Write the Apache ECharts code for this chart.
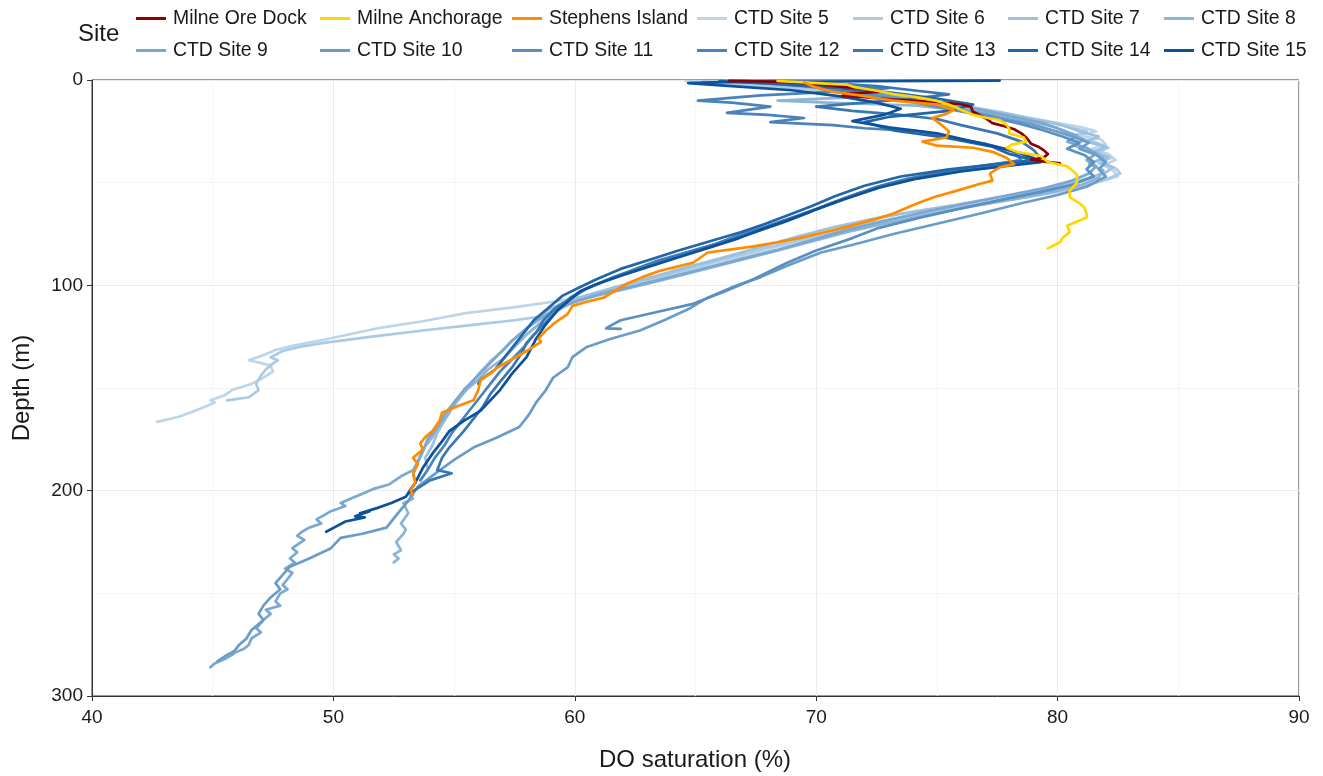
<!DOCTYPE html>
<html>
<head>
<meta charset="utf-8">
<script src="https://cdn.jsdelivr.net/npm/echarts@6/dist/echarts.min.js"></script>
<style>
  html, body { margin: 0; padding: 0; background: #ffffff; }
  #chart { width: 1323px; height: 776px; }
</style>
</head>
<body>
<div id="chart"></div>
<script>
// Dissolved-oxygen saturation profiles: each site is a list of [DO saturation %, depth m]
const siteNames = [
  'Milne Ore Dock', 'Milne Anchorage', 'Stephens Island',
  'CTD Site 5', 'CTD Site 6', 'CTD Site 7', 'CTD Site 8',
  'CTD Site 9', 'CTD Site 10', 'CTD Site 11', 'CTD Site 12',
  'CTD Site 13', 'CTD Site 14', 'CTD Site 15'
];

const siteColors = [
  '#8b0000', '#ffd700', '#ff8c00',
  '#bcd5ea', '#abcae4', '#9cc0de', '#8bb4d7',
  '#7aa8d0', '#6a9cc9', '#5a8fc2', '#4a83bb',
  '#3a76b3', '#2166a8', '#0c519a'
];

const xTicks = [40, 50, 60, 70, 80, 90];
const yTicks = [0, 100, 200, 300];

const milneOreDock = [[66.4,0.4],[67.5,0.6],[68.6,0.9],[69.8,1.8],[71,3.2],[72.2,4.6],[72.6,5.8],[71.3,6.6],[71.1,7.6],[72,8.4],[73.2,9.6],[74.4,10.4],[75.3,11],[76,11.8],[76.4,13],[76.5,15.5],[77,18.5],[77.3,21],[77.8,22.5],[78.2,24],[78.5,26],[78.7,28],[78.9,31],[79.2,32.5],[79.4,34],[79.6,36],[79.4,38],[78.9,38.8],[79.3,39.5],[79.8,40.2],[80.1,40.6]];

const milneAnchorage = [[68.4,0.5],[69.5,1.2],[70.4,1.8],[71.3,2.3],[71.6,3.5],[72.4,5],[73.2,6.8],[74.2,8.5],[75,10.2],[75.5,12],[76,14.5],[76.5,17],[77.1,18.5],[77.6,19.5],[77.9,22],[78,24],[78,26],[78.6,28],[78.7,30],[78.1,31.5],[77.9,33],[78.3,35],[79.3,37],[79.6,40],[80.4,42],[80.6,44],[80.8,46],[80.8,50],[80.5,54],[80.5,57],[80.9,60],[81.1,62],[81.2,65],[81.2,67],[80.4,71],[80.5,74],[80.2,77],[80.1,79],[79.6,82]];

const stephensIsland = [[69.5,1.2],[69.9,3.3],[70.7,5.8],[71.8,7.5],[72.5,8.8],[73.2,10],[74.1,11],[75,12],[75.7,14.5],[75.4,16.5],[74.8,18.5],[75.1,21],[75.5,25],[75.4,28],[74.4,30],[75,32],[76.5,33],[77.3,35],[77.9,38],[78.2,41],[77.6,42.5],[77.2,45.5],[77.3,49],[76.8,50.5],[75.8,54],[74.9,57],[74.2,60],[73.2,65],[72.4,68],[71.1,72],[70.2,74.5],[69.3,77],[68.4,79],[67.4,81],[66.5,82.5],[65.5,84],[64.9,89],[64.2,91],[63.5,93],[62.8,96],[62.2,99],[61.6,103],[61.2,106],[60.5,108],[59.9,110],[59.7,114],[59.2,118],[58.8,122],[58.5,126],[58.6,127.5],[58,132],[57.4,136],[56.8,140],[56.5,143],[56.1,146],[56,151],[55.8,156],[55.1,159],[54.5,162],[54.4,166],[54.1,171],[53.8,174],[53.6,177],[53.7,180],[53.3,184],[53.5,187],[53.3,192],[53.4,196],[53.2,200],[53.3,202]];

const ctdSite5 = [[64.6,0.5],[65.8,1.2],[67.4,2.5],[69.2,4],[70.6,5.5],[72.3,7.5],[73.8,9.5],[75.2,11.5],[76.4,13.5],[77.3,15.5],[78.6,18],[79.8,20.5],[81,23],[81.6,25],[80.9,27],[81.8,29],[82,31.5],[81.4,33.5],[82.1,36],[82.4,39],[81.9,41.5],[82.3,44],[82.5,47],[81.6,50],[80.2,53],[78.8,56],[77.1,59.5],[75.6,62.5],[73.9,66],[72.2,70],[70.6,74],[69.1,79],[67.5,84],[66.1,89],[64.4,94],[62.9,99],[61.5,103],[60.4,105.5],[59.4,107.5],[57.6,110.5],[55.5,113.5],[53.7,117.5],[51.8,121],[49.6,126.5],[48.3,129.5],[47.6,131.5],[47.1,134],[46.5,136.5],[47.4,139],[47.5,142],[47.1,145],[46.6,148],[46.2,149.5],[45.8,151],[45.5,153.5],[44.9,156],[45.1,157],[44.9,158],[44.3,161],[43.6,164],[42.7,166.5]];

const ctdSite6 = [[65.3,0.5],[66.9,1.8],[68.5,3.5],[70.2,5],[71.9,7],[73.2,8.5],[74.6,10.5],[75.8,13],[76.9,15],[78.2,17.5],[79.5,20],[80.3,22.5],[81.2,25],[80.6,27.5],[81.5,30],[82.1,33],[81.6,35.5],[82.2,38],[81.7,40.5],[82.4,43],[82.6,45.5],[82.1,48],[81.3,51],[80,54.5],[78.5,57.5],[76.6,61],[74.8,64.5],[73,68],[71.3,72],[69.8,76.5],[68.2,81],[66.6,86],[65,91],[63.5,96],[62.1,100],[60.8,104],[59.9,108],[59,114.5],[57.5,117],[55.6,119.5],[53.7,122],[51.6,125],[49.6,128],[48.6,130],[47.9,132],[47.4,135],[47.7,136.5],[47.5,138],[47.2,141],[47,144],[46.8,148],[46.9,151],[46.5,154.5],[45.6,156]];

const ctdSite7 = [[66.2,0.5],[67.5,1.5],[69.3,3],[71,4.5],[72.6,6.5],[74,8.5],[75.3,11],[76.6,13.5],[77.8,16],[79,19],[80.2,22],[80.9,25],[81.7,27.5],[81.2,30],[82,32.5],[81.5,35],[82.1,37.5],[81.8,40],[82.3,42.5],[82,45],[81.2,48],[80.3,51],[79.1,54],[77.6,57],[75.9,60.5],[74.1,64],[72.4,67.5],[70.8,71.5],[69.3,76],[67.8,81],[66.3,86],[64.7,91],[63.2,96],[61.8,100.5],[60.6,104.5],[59.6,108],[58.9,112],[58.4,117],[57.9,122],[57.4,127],[57,132],[56.5,137],[56.1,142],[55.7,148],[55.3,154],[54.9,160],[54.6,166],[54.3,172],[54.1,178],[53.8,184],[53.9,189]];

const ctdSite8 = [[67,0.5],[68.4,2],[70.1,3.5],[71.6,5],[73,7],[71.5,8.5],[69.8,9.3],[68.4,10],[70.5,11],[72.5,11.8],[74.2,12.5],[75.3,14],[76.3,15],[77.6,17],[78.8,20],[79.9,23],[80.5,26],[81.1,29],[80.7,32],[81.5,35],[81.9,38],[81.3,41],[81.9,44],[81.7,47.5],[81,51],[79.8,54.5],[78.2,58],[76.5,61.5],[74.7,65.5],[73,69.5],[71.3,74],[69.7,79],[68.1,84],[66.6,88.5],[65.1,93],[63.6,97.5],[62.2,101.5],[60.9,105],[59.9,108.5],[59.1,113],[58.6,118],[58,124],[57.5,130],[57,136],[56.4,141],[56,146],[55.5,151],[55.1,156],[54.8,162],[54.4,168],[54.1,174],[53.7,180],[53.5,186],[53.3,191],[53.4,196],[53.1,201],[53.3,204],[52.9,206],[53.1,211],[52.8,216],[53,219],[52.9,221],[52.6,225],[52.8,229],[52.5,231],[52.7,233],[52.5,235]];

const ctdSite9 = [[67.8,0.5],[69,1.5],[70.6,3],[72.1,5],[73.4,7],[74.5,9.5],[75.7,12],[77,15],[78.2,18],[79.4,21],[80.1,24],[80.8,27],[80.4,30],[81.2,33],[81.6,36],[81.2,39],[81.6,42],[81.3,45.5],[80.6,49],[79.5,52.5],[78,56],[76.3,60],[74.6,64],[72.9,68.5],[71.3,73],[69.8,78],[68.3,83],[66.8,87.5],[65.3,92],[63.8,96.5],[62.4,100.5],[61.1,104],[60.1,107.5],[59.3,111],[58.6,116],[58,121],[57.4,127],[56.9,133],[56.4,139],[55.9,145],[55.4,151],[55,157],[54.6,163],[54.3,169],[53.9,175],[53.7,181],[53.5,186],[53.3,190],[52.8,193],[52.3,197],[51.7,199],[51.3,201],[50.8,203.5],[50.3,206],[50.5,207.5],[49.9,210],[49.6,212],[49.3,214],[49.5,216],[49,218],[48.7,220],[48.5,222],[48.8,224],[48.3,228],[48.5,230],[48.2,233],[48.4,235],[48,238],[48.3,240],[48.1,243],[47.9,246],[48.1,248],[47.8,250],[47.6,254],[47.8,256],[47.2,258],[47.4,260],[47.1,263],[46.8,267],[47,269],[46.6,272],[46.5,275],[46.3,277],[45.9,279],[45.8,280],[45.5,282],[45.1,284],[44.9,286]];

const ctdSite10 = [[66.5,0.5],[68.2,1.8],[69.9,3.5],[71.4,5.5],[72.8,7.5],[74,10],[75.2,12.5],[76.5,15.5],[77.7,18.5],[78.9,21.5],[79.8,24.5],[80.6,27.5],[81.3,30.5],[80.9,33.5],[81.6,36.5],[82,40],[81.7,43.5],[82,47],[81.2,52],[80,56],[78.5,60],[76.8,65],[75,70],[73.2,75],[71.6,80],[70.2,84],[68.9,90],[67.7,96],[66.5,101],[65.5,106],[64.8,111],[63.7,117],[62.7,122],[61.5,126],[60.5,130],[59.9,135],[59.7,140],[59.1,145],[58.8,151],[58.4,157],[58.1,163],[57.7,169],[56.8,174],[55.8,179],[55,185],[54.3,191],[53.5,198],[53.1,205],[52.6,212],[52.2,218],[51.2,221],[50.3,223],[49.9,228],[49,233],[48.2,237],[47.9,241],[47.6,245],[47.8,248],[47.4,252],[47.1,256],[46.9,260],[47.1,263],[46.6,268],[46.4,272],[46.1,275],[45.9,278],[45.6,280],[45.2,283]];

const ctdSite11 = [[66.8,0.5],[68.1,1.5],[69.6,3],[70.9,5],[72.3,7.5],[73.6,10],[74.8,12.5],[76.1,15.5],[77.4,18.5],[78.5,21.5],[79.4,24.5],[80.2,27.5],[80.9,30.5],[80.4,33.5],[81.1,36.5],[81.5,40],[81.2,43.5],[81.5,47],[80.6,51],[79.5,54],[77.8,58],[76,62.5],[74.3,67],[72.6,72],[71.5,77],[70,83],[68.8,89],[67.4,97],[66.2,103],[64.9,109],[63.4,113],[61.9,117],[61.5,119.5],[61.3,121],[61.9,121.2]];

const ctdSite12 = [[67,0.5],[70,2],[73,4],[71,5.5],[67.7,7.5],[65.1,10],[66.5,11],[68.1,13],[66.3,16],[68,17],[69.5,18.5],[68.1,20.5],[70.7,22],[72,23.5],[74.3,25],[75.5,28],[77,31],[78.2,35],[78.5,39],[77,41.5],[75.5,44],[73.8,48],[72.5,52],[71.3,57],[70.2,62],[69,67],[68,71],[66.9,75],[65.8,80],[64.6,84],[63.4,88],[62.3,93],[61.2,98],[60.4,102],[59.8,106],[59.3,112],[58.8,118],[58.3,124],[57.9,130],[57.4,136],[56.9,142],[56.5,148],[56.1,154],[55.7,160],[55.3,166],[54.9,172],[54.6,178],[54.2,184],[53.9,190],[53.6,195]];

const ctdSite13 = [[68,0.5],[70.5,1.5],[72.5,3],[74,5],[75.5,7],[74,9],[72,11],[70,13],[71.5,15],[73.5,17],[75,19],[76,22],[77.5,26],[78.5,30],[79,34],[79.3,38],[78.4,41],[76.5,43.5],[74.6,46.5],[73,50.5],[71.8,55],[70.6,60],[69.6,65],[68.6,69.5],[67.6,73.5],[66.4,78],[65.1,82.5],[63.9,87],[62.7,91.5],[61.5,96.5],[60.5,101.5],[59.9,106],[59.2,111],[58.7,117],[58.4,123],[58,128],[57.8,133],[57.4,140],[56.9,147],[56.5,153],[56.2,159],[55.8,165],[55.4,171],[55.1,175],[54.8,179],[54.5,184],[54.3,190],[54.9,191.5],[54,195],[53.6,198],[53.2,201]];

const ctdSite14 = [[66,0.5],[68.5,2],[71,4],[73,6],[75,9],[76.5,12],[75.5,15],[73,18],[72,20.5],[73.2,24.5],[75.3,28],[77.3,32.5],[78,36],[79,39],[77.5,41],[75.5,43.5],[73.5,47],[72,51.5],[70.8,56.5],[69.8,61.5],[68.8,66],[67.9,70],[66.9,74],[65.6,78.5],[64.3,83],[63.1,87.5],[61.9,92],[60.9,97],[60.1,101.5],[59.5,105],[58.9,111],[58.3,117],[57.9,123],[57.5,129],[57.1,135],[56.7,141],[56.1,146],[56,148]];

const ctdSite15 = [[77.6,0.3],[72,0.6],[66,1],[64.7,1.5],[66.5,3],[69,5],[71,8],[72.5,11],[73.5,14],[72.8,17],[71.5,20],[73,23],[75,26],[76.5,30],[78,34],[79,38],[79.3,40],[77.8,42],[76,44.5],[74.2,48],[72.6,52.5],[71.2,58],[70,63],[68.9,68],[67.8,72.5],[66.8,77],[65.6,81.5],[64.4,86],[63.2,90.5],[62,95],[60.9,99.5],[60.2,103],[59.9,106],[59.3,112],[58.8,119],[58.4,126],[58,135],[57.4,143],[56.9,151],[56.5,156],[56.1,161],[55.4,166],[54.8,171],[54.5,176],[54.1,182],[53.7,189],[53.4,196],[53,203],[52.4,206],[51.8,208.5],[51.1,211],[51.5,210],[50.9,212.5],[51.3,213],[50.5,215],[50.1,217.5],[49.7,220]];

const siteData = [
  milneOreDock, milneAnchorage, stephensIsland,
  ctdSite5, ctdSite6, ctdSite7, ctdSite8, ctdSite9, ctdSite10,
  ctdSite11, ctdSite12, ctdSite13, ctdSite14, ctdSite15
];

const FONT = '"Liberation Sans", Arial, sans-serif';
const INK = '#1a1a1a';

// legend laid out as a 7-column, 2-row block beside the "Site" heading
const legendColumnsX = [136, 320, 512, 697, 853, 1008, 1164];
const legendRowsTop = [9, 41];

const legends = siteNames.map((name, i) => ({
  data: [name],
  left: legendColumnsX[i % 7],
  top: legendRowsTop[Math.floor(i / 7)],
  orient: 'horizontal',
  padding: 0,
  icon: 'rect',
  itemWidth: 30,
  itemHeight: 3,
  selectedMode: false,
  textStyle: { fontFamily: FONT, fontSize: 19.4, color: INK, padding: [0, 0, 0, 2] }
}));

// blue CTD casts go underneath; the three named stations are drawn on top
const series = siteNames.map((name, i) => ({
  name: name,
  type: 'line',
  data: siteData[i],
  showSymbol: false,
  symbol: 'none',
  smooth: false,
  z: i < 3 ? 4 : 2,
  color: siteColors[i],
  lineStyle: { width: 2.7, color: siteColors[i], join: 'round', cap: 'round' },
  emphasis: { disabled: true },
  animation: false
}));

const chart = echarts.init(document.getElementById('chart'), null, { renderer: 'canvas' });
chart.setOption({
  backgroundColor: '#ffffff',
  animation: false,
  grid: {
    left: 92, right: 24, top: 80, bottom: 80,
    show: true, borderColor: '#333333', borderWidth: 1, backgroundColor: '#ffffff'
  },
  legend: legends,
  xAxis: {
    type: 'value',
    min: xTicks[0], max: xTicks[xTicks.length - 1], interval: 10,
    axisLine: { show: true, onZero: false, lineStyle: { color: '#333333', width: 1 } },
    axisTick: { show: true, length: 5, lineStyle: { color: '#333333' } },
    axisLabel: { fontFamily: FONT, fontSize: 19, color: INK, margin: 12 },
    splitLine: { show: true, lineStyle: { color: '#ebebeb', width: 1 } },
    minorTick: { show: false, splitNumber: 2 },
    minorSplitLine: { show: true, lineStyle: { color: '#f5f5f5', width: 1 } }
  },
  yAxis: {
    type: 'value',
    inverse: true,
    min: yTicks[0], max: yTicks[yTicks.length - 1], interval: 100,
    axisLine: { show: true, onZero: false, lineStyle: { color: '#333333', width: 1 } },
    axisTick: { show: true, length: 5, lineStyle: { color: '#333333' } },
    axisLabel: { fontFamily: FONT, fontSize: 19, color: INK, margin: 9 },
    splitLine: { show: true, lineStyle: { color: '#ebebeb', width: 1 } },
    minorTick: { show: false, splitNumber: 2 },
    minorSplitLine: { show: true, lineStyle: { color: '#f5f5f5', width: 1 } }
  },
  graphic: [
    { type: 'text', left: 78, top: 22, style: { text: 'Site', font: '24px ' + FONT, fill: INK } },
    { type: 'text', x: 695, y: 760, style: { text: 'DO saturation (%)', font: '24px ' + FONT, fill: INK, align: 'center', verticalAlign: 'middle' } },
    { type: 'text', x: 22, y: 388, rotation: Math.PI / 2, style: { text: 'Depth (m)', font: '24px ' + FONT, fill: INK, align: 'center', verticalAlign: 'middle' } }
  ],
  series: series
});
</script>
</body>
</html>
